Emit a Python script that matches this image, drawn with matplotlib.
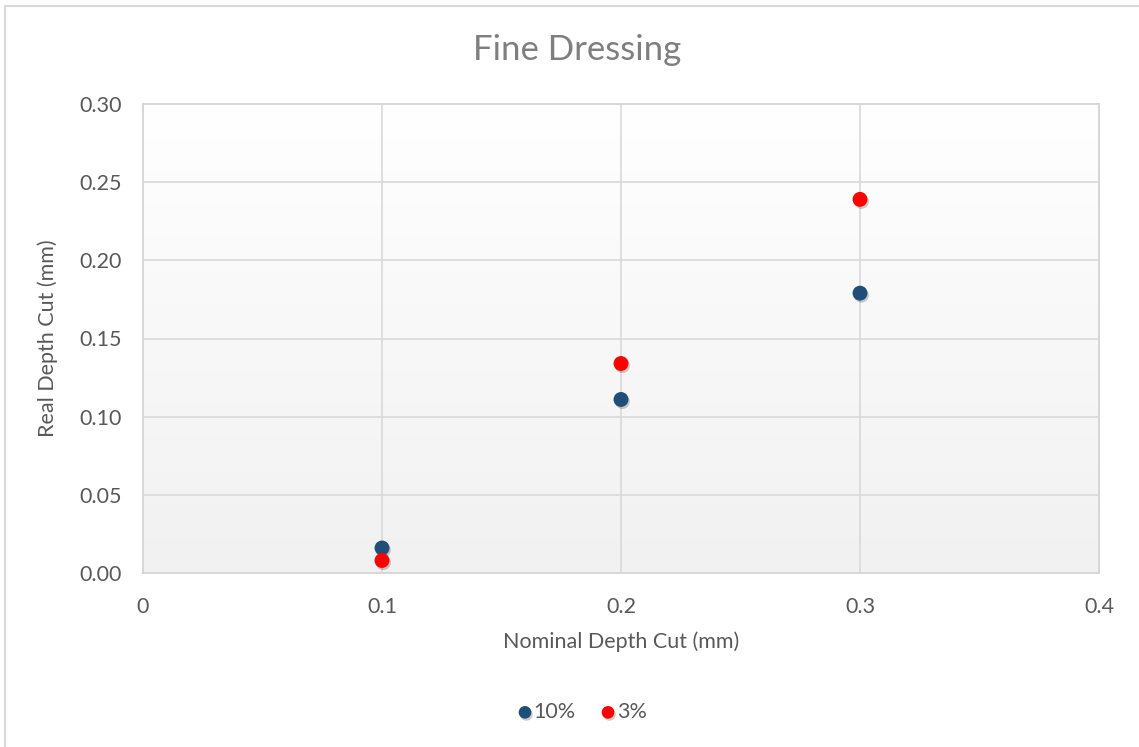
import numpy as np
import matplotlib
matplotlib.use("Agg")
import matplotlib.pyplot as plt
from matplotlib.patches import Rectangle
import matplotlib.patheffects as pe

plt.rcParams['font.family'] = ['Lato', 'DejaVu Sans']

nominal = [0.1, 0.2, 0.3]
real_10 = [0.016, 0.111, 0.179]
real_3 = [0.008, 0.134, 0.239]
series_names = ["10%", "3%"]
colors = ["#1F4E79", "#FF0000"]
x_ticks = [0, 0.1, 0.2, 0.3, 0.4]
x_tick_labels = ["0", "0.1", "0.2", "0.3", "0.4"]
y_ticks = [0.00, 0.05, 0.10, 0.15, 0.20, 0.25, 0.30]

W, H = 1139, 747
fig = plt.figure(figsize=(W / 100, H / 100), dpi=100)

# chart border
fig.patches.append(Rectangle((5 / W, 0 - 0.01), (W - 5) / W + 0.02, (H - 6) / H + 0.01,
                             transform=fig.transFigure, fill=False,
                             edgecolor="#d9d9d9", linewidth=1.5))

ax = fig.add_axes([143 / W, 1 - 573 / H, (1099 - 143) / W, (573 - 104) / H])
ax.set_xlim(0, 0.4)
ax.set_ylim(0, 0.30)

# plot-area gradient: white at top fading to light grey at the bottom
grad = np.linspace(0, 1, 256).reshape(-1, 1)
top = np.array([1.0, 1.0, 1.0])
bot = np.array([0.945, 0.945, 0.945])
img = top + (bot - top) * grad[..., None]
img = img[::-1]
ax.imshow(img, extent=[0, 0.4, 0, 0.30], aspect="auto", origin="lower", zorder=0)

ax.set_xticks(x_ticks)
ax.set_xticklabels(x_tick_labels)
ax.set_yticks(y_ticks)
ax.set_yticklabels([f"{v:.2f}" for v in y_ticks])
ax.grid(True, color="#d9d9d9", linewidth=1.2, zorder=1)
ax.set_axisbelow(False)
for s in ax.spines.values():
    s.set_color("#d0d0d0")
    s.set_linewidth(1.2)
ax.tick_params(length=0, labelsize=15.5, labelcolor="#595959")
ax.tick_params(axis="y", pad=15)
ax.tick_params(axis="x", pad=17)

shadow = [pe.SimplePatchShadow(offset=(1, -1.5), alpha=0.2, shadow_rgbFace="black"), pe.Normal()]
for ys, c, name in zip([real_10, real_3], colors, series_names):
    ax.scatter(nominal, ys, s=115, color=c, edgecolors="none", zorder=3,
               label=name, path_effects=shadow, clip_on=False)

ax.set_xlabel("Nominal Depth Cut (mm)", fontsize=15.5, color="#595959", labelpad=11)
ax.set_ylabel("Real Depth Cut (mm)", fontsize=15.5, color="#595959")
ax.yaxis.set_label_coords((58 - 143) / (1099 - 143), 0.5)
fig.text(577 / W, 1 - 50 / H, "Fine Dressing", ha="center", va="center",
         fontsize=25, color="#7f7f7f")

leg = fig.legend(loc="center", bbox_to_anchor=(575 / W, 1 - 712 / H), ncol=2,
                 frameon=False, fontsize=15.5, handletextpad=-0.6,
                 columnspacing=0.5, markerscale=0.85)
for t in leg.get_texts():
    t.set_color("#595959")

fig.savefig("out.png", dpi=100, facecolor="white")
